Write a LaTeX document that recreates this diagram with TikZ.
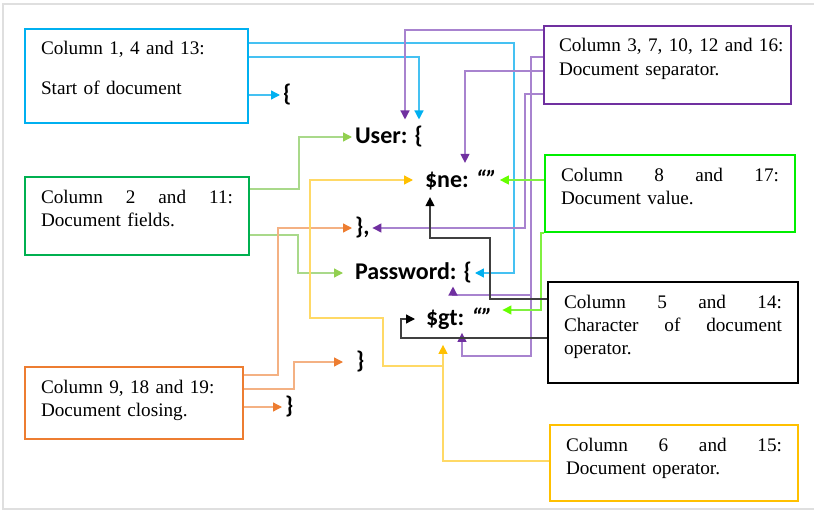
\documentclass[tikz,border=0pt]{standalone}
\usepackage{fontspec}
\setmainfont{Liberation Serif}
\newfontfamily\codefont{Carlito}
\usepackage{xcolor}
\usepackage{tikz}
\usetikzlibrary{arrows.meta,calc}

\definecolor{blu}{HTML}{00B0F0}
\definecolor{bluline}{HTML}{45C1F2}
\definecolor{grn}{HTML}{92D050}
\definecolor{grnline}{HTML}{A9D98A}
\definecolor{grnbox}{HTML}{00B050}
\definecolor{pur}{HTML}{7030A0}
\definecolor{purline}{HTML}{A883CF}
\definecolor{lim}{HTML}{66FF00}
\definecolor{limline}{HTML}{80F040}
\definecolor{limbox}{HTML}{00EE00}
\definecolor{blk}{HTML}{000000}
\definecolor{blkline}{HTML}{404040}
\definecolor{org}{HTML}{ED7D31}
\definecolor{orgline}{HTML}{F4B183}
\definecolor{ylw}{HTML}{FFC000}
\definecolor{ylwline}{HTML}{FFD966}

\begin{document}
\begin{tikzpicture}[x=1pt, y=-1pt,
  note/.style={draw=#1, line width=2pt, anchor=north west,
               inner xsep=16pt, inner ysep=8pt, text height=18pt,
               align=left, font=\fontsize{19.2}{23.3}\selectfont},
  code/.style={font=\codefont\bfseries\fontsize{24}{28}\selectfont,
               inner sep=0pt, outer sep=3pt, anchor=west},
  conn/.style={draw=#1line, line width=1.3pt,
               -{Triangle[length=9pt, width=9pt, color=#1]}}
]
  \useasboundingbox (0,0) rectangle (814,511);
  \draw[gray!25, line width=1.5pt] (814,4) -- (3,4) -- (3,509) -- (814,509);

  % Boxes
  \node[note=blu, text width=191pt, text depth=60pt] (b1) at (24,28) {
    Column 1, 4 and 13:\\[16pt]
    Start of document
  };
  \node[note=grnbox, text width=192pt, text depth=44pt] (b2) at (24,176) {
    Column\hfill 2\hfill and\hfill 11:\\
    Document fields.
  };
  \node[note=pur, inner xsep=15pt, text width=217pt, text depth=44pt] (b3) at (543,25) {
    \mbox{Column 3, 7, 10, 12 and 16:}\\
    Document separator.
  };
  \node[note=limbox, text width=218pt, text depth=43pt] (b4) at (544,154) {
    Column\hfill 8\hfill and\hfill 17:\\
    Document value.
  };
  \node[note=black, text width=218pt, text depth=67pt] (b5) at (547,281) {
    Column\hfill 5\hfill and\hfill 14:\\
    Character\hfill of\hfill document\\
    operator.
  };
  \node[note=org, text width=186pt, text depth=38pt] (b6) at (24,366) {
    Column 9, 18 and 19:\\
    Document closing.
  };
  \node[note=ylw, text width=216pt, text depth=42pt] (b7) at (549,424) {
    Column\hfill 6\hfill and\hfill 15:\\
    Document operator.
  };

  % Code lines
  \node[code] (o1) at (280,95) {\{};
  \node[code] (us) at (352,137) {User: \{};
  \node[code] (ne) at (422,180) {\$ne: {\itshape “”}};
  \node[code] (cm) at (352,228) {\},};
  \node[code] (pw) at (352,273) {Password: \{};
  \node[code] (gt) at (423,319) {\$gt: {\itshape “”}};
  \node[code] (c2) at (353,362) {\}};
  \node[code] (c3) at (282,407) {\}};

  % Start of document
  \draw[conn=blu] (b1.east |- 0,43) -| (514,0 |- pw) -- (pw.east);
  \draw[conn=blu] (b1.east |- 0,57) -| ($(us.north -| 419,0)+(0,-4)$);
  \draw[conn=blu] (b1.east |- o1) -- (o1.west);

  % Document separator
  \draw[conn=pur] (b3.west |- 0,30) -| ($(us.north -| 405,0)+(0,-4)$);
  \draw[conn=pur] (b3.west |- 0,71) -| ($(ne.north -| 465,0)+(0,-4)$);
  \draw[conn=pur] (b3.west |- 0,94) -| (525,0 |- cm) -- (cm.east);
  \draw[conn=pur] (b3.west |- 0,57) -| (531,295) -| (pw.south -| 453,0);
  \draw[conn=pur] (b3.west |- 0,57) -| (531,356) -| (gt.south -| 462,0);

  % Document fields
  \draw[conn=grn] (b2.east |- 0,189) -| (299,0 |- us) -- (us.west);
  \draw[conn=grn] (b2.east |- 0,235) -| (298,0 |- pw) -- ($(pw.west)+(-9,0)$);

  % Document value
  \draw[conn=lim] (b4.west |- ne) -- (ne.east);
  \draw[conn=lim] (b4.south west) -- ++(-3,0) |- ($(gt.east |- 0,310)+(7,0)$);

  % Character of document operator
  \draw[conn=blk] (b5.west |- 0,299) -| (490,238) -| ($(ne.south -| 430,0)+(0,4)$);
  \draw[conn=blk] (b5.west |- 0,338) -| (401,0 |- gt) -- ($(gt.west)+(-8,0)$);

  % Document closing
  \draw[conn=org] (b6.east |- 0,375) -| (278,0 |- cm) -- (cm.west);
  \draw[conn=org] (b6.east |- 0,389) -| (294,0 |- c2) -- ($(c2.west)+(-10,0)$);
  \draw[conn=org] (b6.east |- c3) -- (c3.west);

  % Document operator
  \draw[conn=ylw] (b7.west |- 0,461) -| ($(gt.south -| 443,0)+(0,12)$);
  \draw[conn=ylw] (b7.west |- 0,461) -| (443,366) -| (383,318) -| (310,0 |- ne) -- ($(ne.west)+(-9,0)$);
\end{tikzpicture}
\end{document}
